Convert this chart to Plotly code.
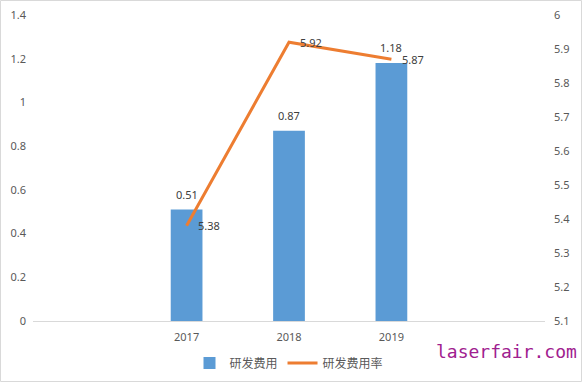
import plotly.graph_objects as go

years = ["2017", "2018", "2019"]
rd_cost = [0.51, 0.87, 1.18]
rd_rate = [5.38, 5.92, 5.87]
left_ticks = [0, 0.2, 0.4, 0.6, 0.8, 1, 1.2, 1.4]
left_tick_text = ["0", "0.2", "0.4", "0.6", "0.8", "1", "1.2", "1.4"]
right_ticks = [5.1, 5.2, 5.3, 5.4, 5.5, 5.6, 5.7, 5.8, 5.9, 6]
right_tick_text = ["5.1", "5.2", "5.3", "5.4", "5.5", "5.6", "5.7", "5.8", "5.9", "6"]

FONT = "Noto Sans, Noto Sans CJK SC, sans-serif"
TICK_COLOR = "#595959"
LABEL_COLOR = "#404040"

fig = go.Figure()
fig.add_trace(go.Bar(
    x=years, y=rd_cost, name="研发费用",
    marker=dict(color="#5B9BD5", line=dict(width=0)),
    width=0.31, yaxis="y",
))
fig.add_trace(go.Scatter(
    x=years, y=rd_rate, name="研发费用率", yaxis="y2",
    mode="lines",
    line=dict(color="#ED7D31", width=3),
))

annotations = []
for i, v in enumerate(rd_cost):
    annotations.append(dict(
        x=i, y=v, xref="x", yref="y", text=f"{v:.2f}", showarrow=False,
        xanchor="center", yanchor="bottom", yshift=6,
        font=dict(family=FONT, size=11, color=LABEL_COLOR),
    ))
for i, v in enumerate(rd_rate):
    annotations.append(dict(
        x=i, y=v, xref="x", yref="y2", text=f"{v:.2f}", showarrow=False,
        xanchor="left", yanchor="middle", xshift=9,
        font=dict(family=FONT, size=11, color=LABEL_COLOR),
    ))
annotations.append(dict(
    x=0.924, y=-0.1013, xref="paper", yref="paper", text="laserfair.com",
    showarrow=False, xanchor="center", yanchor="middle",
    font=dict(family="DejaVu Sans Mono, monospace", size=18, color="#A0208F"),
))

fig.update_layout(
    width=582, height=383,
    margin=dict(l=33, r=37, t=15, b=62, autoexpand=False),
    paper_bgcolor="white", plot_bgcolor="white",
    font=dict(family=FONT, size=11, color=TICK_COLOR),
    showlegend=True,
    legend=dict(orientation="h", x=0.5, xanchor="center", y=-0.137, yanchor="middle",
                font=dict(family=FONT, size=12, color=TICK_COLOR),
                bgcolor="rgba(0,0,0,0)", itemwidth=30, tracegroupgap=0),
    xaxis=dict(type="category", range=[-1.5, 3.5], showgrid=False,
               showline=True, linecolor="#D9D9D9", linewidth=1,
               ticks="", ticklabelstandoff=6, zeroline=False, automargin=False,
               tickfont=dict(family=FONT, size=11, color=TICK_COLOR)),
    yaxis=dict(range=[0, 1.4], tickvals=left_ticks, ticktext=left_tick_text,
               showgrid=False, zeroline=False, showline=False, ticks="",
               ticklabelstandoff=6, automargin=False,
               tickfont=dict(family=FONT, size=11, color=TICK_COLOR)),
    yaxis2=dict(range=[5.1, 6], tickvals=right_ticks, ticktext=right_tick_text,
                overlaying="y", side="right", showgrid=False, zeroline=False,
                showline=False, ticks="", ticklabelstandoff=8, automargin=False,
                tickfont=dict(family=FONT, size=11, color=TICK_COLOR)),
    annotations=annotations,
    shapes=[dict(type="rect", xref="paper", yref="paper",
                 x0=-0.0635, x1=1.0713, y0=-0.1977, y1=1.0474,
                 line=dict(color="#D9D9D9", width=1), fillcolor="rgba(0,0,0,0)",
                 layer="below")],
    bargap=0.69,
)

fig.write_html("out.html", config={"displayModeBar": False},
               post_script="document.body.style.margin='0';document.body.style.padding='0';")
